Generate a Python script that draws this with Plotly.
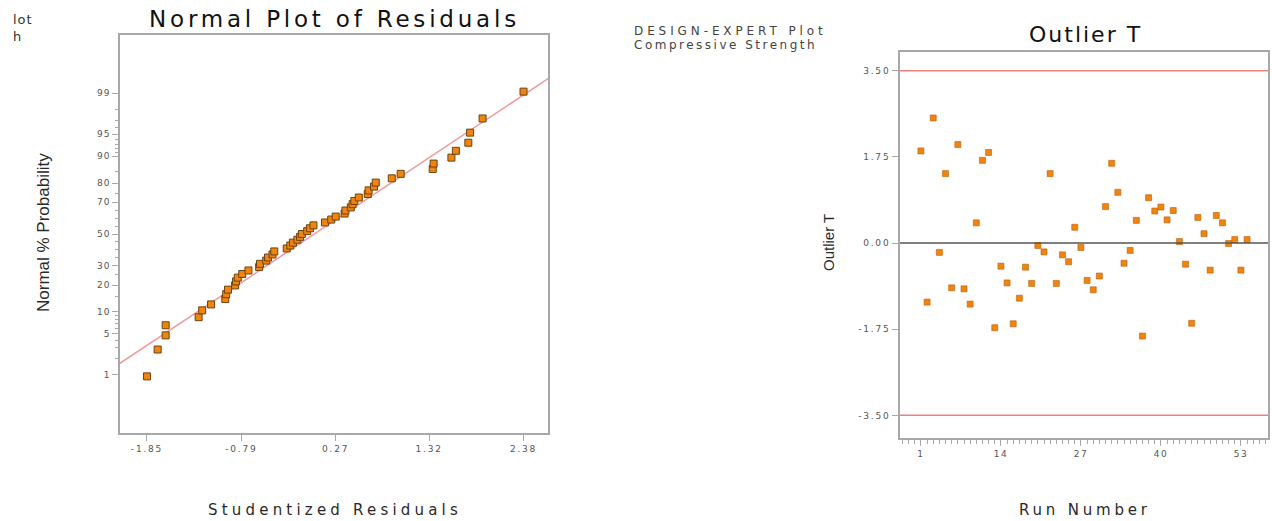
import plotly.graph_objects as go
from statistics import NormalDist

# ---- Normal probability plot of the studentized residuals ----
residuals = [
    -1.85, -1.73, -1.64, -1.64, -1.27, -1.23, -1.13, -0.97, -0.96, -0.94,
    -0.86, -0.85, -0.83, -0.78, -0.71, -0.59, -0.58, -0.51, -0.49, -0.44,
    -0.42, -0.28, -0.24, -0.21, -0.16, -0.13, -0.11, -0.05, -0.02, 0.02,
    0.15, 0.22, 0.27, 0.37, 0.38, 0.44, 0.46, 0.48, 0.53, 0.63,
    0.64, 0.70, 0.72, 0.90, 1.00, 1.36, 1.37, 1.57, 1.62, 1.76,
    1.78, 1.92, 2.38,
]
normal_pct = [
    0.94, 2.83, 4.72, 6.60, 8.49, 10.38, 12.26, 14.15, 16.04, 17.92,
    19.81, 21.70, 23.58, 25.47, 27.36, 29.25, 31.13, 33.02, 34.91, 36.79,
    38.68, 40.57, 42.45, 44.34, 46.23, 48.11, 50.00, 51.89, 53.77, 55.66,
    57.55, 59.43, 61.32, 63.21, 65.09, 66.98, 68.87, 70.75, 72.64, 74.53,
    76.42, 78.30, 80.19, 82.08, 83.96, 85.85, 87.74, 89.62, 91.51, 93.40,
    95.28, 97.17, 99.06,
]
fit_x = [-2.16, 2.66]
fit_pct = [1.62, 99.49]

resid_ticks = [-1.85, -0.79, 0.27, 1.32, 2.38]
prob_ticks = [1, 5, 10, 20, 30, 50, 70, 80, 90, 95, 99]
prob_minor = [2, 3, 4, 6, 7, 8, 9, 15, 25, 35, 40, 45, 55, 60, 65, 75, 85,
              91, 92, 93, 94, 96, 97, 98]

# ---- Outlier T by run order ----
runs = list(range(1, 55))
outlier_t = [
    1.87, -1.20, 2.54, -0.19, 1.41, -0.91, 2.00, -0.93, -1.24, 0.41,
    1.68, 1.84, -1.72, -0.47, -0.81, -1.64, -1.12, -0.49, -0.82, -0.05,
    -0.18, 1.41, -0.82, -0.24, -0.38, 0.32, -0.09, -0.76, -0.95, -0.67,
    0.74, 1.62, 1.03, -0.41, -0.15, 0.46, -1.89, 0.92, 0.65, 0.73,
    0.47, 0.66, 0.03, -0.43, -1.63, 0.52, 0.19, -0.55, 0.56, 0.41,
    -0.01, 0.07, -0.55, 0.07,
]
t_limit = 3.50
t_ticks = [3.50, 1.75, 0.00, -1.75, -3.50]
run_ticks = [1, 14, 27, 40, 53]

W, H = 1272, 521
nd = NormalDist()


def probit(p):
    return nd.inv_cdf(p / 100.0)


def px(x):
    return x / W


def py(y):
    return 1 - y / H


def spaced(text, gap):
    """Wrap text in a span with extra letter spacing."""
    return f'<span style="letter-spacing:{gap}px">{text}</span>'


ORANGE = "#f0840e"
EDGE = "#6b4310"
AXIS = "#a8a8a8"
TICKFONT = dict(family="DejaVu Sans", size=9, color="#555555")
TEXT = "#2a2a2a"

fig = go.Figure()

fig.add_trace(go.Scatter(
    x=fit_x, y=[probit(p) for p in fit_pct], mode="lines",
    line=dict(color="#f29a9a", width=1.5), xaxis="x", yaxis="y",
    hoverinfo="skip", showlegend=False))
fig.add_trace(go.Scatter(
    x=residuals, y=[probit(p) for p in normal_pct], mode="markers",
    marker=dict(symbol="square", size=7, color=ORANGE,
                line=dict(color=EDGE, width=1)),
    xaxis="x", yaxis="y", showlegend=False))

fig.add_trace(go.Scatter(
    x=runs, y=outlier_t, mode="markers",
    marker=dict(symbol="square", size=6, color=ORANGE,
                line=dict(color="#b86008", width=0.6)),
    xaxis="x2", yaxis="y2", showlegend=False))

axis_common = dict(showline=True, mirror=True, linecolor=AXIS, linewidth=1.5,
                   ticks="outside", tickcolor=AXIS, ticklen=6, tickwidth=1,
                   showgrid=False, zeroline=False, tickfont=TICKFONT)

fig.update_layout(
    width=W, height=H, margin=dict(l=0, r=0, t=0, b=0),
    paper_bgcolor="white", plot_bgcolor="white",
    xaxis=dict(domain=[px(120), px(548)], range=[-2.153, 2.655],
               tickmode="array", tickvals=resid_ticks,
               ticktext=[spaced(f"{v:.2f}", 1.8) for v in resid_ticks],
               anchor="y", **axis_common),
    yaxis=dict(domain=[py(433), py(35)], range=[-3.284, 3.284],
               tickmode="array", tickvals=[probit(p) for p in prob_ticks],
               ticktext=[spaced(str(p), 1) for p in prob_ticks],
               minor=dict(tickmode="array",
                          tickvals=[probit(p) for p in prob_minor],
                          ticklen=3, tickcolor=AXIS, ticks="outside"),
               anchor="x", **axis_common),
    xaxis2=dict(domain=[px(900), px(1268)], range=[-2.4, 57.4],
                tickmode="array", tickvals=run_ticks,
                ticktext=[spaced(str(v), 1.5) for v in run_ticks],
                minor=dict(tickmode="linear", tick0=1, dtick=1, ticklen=4,
                           tickcolor=AXIS, ticks="outside"),
                anchor="y2", **axis_common),
    yaxis2=dict(domain=[py(438), py(52)], range=[-3.96, 3.88],
                tickmode="array", tickvals=t_ticks,
                ticktext=[spaced(f"{v:.2f}", 1.8) for v in t_ticks],
                anchor="x2", **axis_common),
    shapes=[
        dict(type="line", xref="x2 domain", yref="y2", x0=0, x1=1,
             y0=t_limit, y1=t_limit, line=dict(color="#f08080", width=1.5)),
        dict(type="line", xref="x2 domain", yref="y2", x0=0, x1=1,
             y0=-t_limit, y1=-t_limit, line=dict(color="#f08080", width=1.5)),
        dict(type="line", xref="x2 domain", yref="y2", x0=0, x1=1,
             y0=0, y1=0, line=dict(color="#555555", width=1.5)),
    ],
)

ann = [
    dict(text=spaced("Normal Plot of Residuals", 3.8), x=px(334), y=py(19),
         font=dict(family="DejaVu Sans", size=23, color="#111111")),
    dict(text=spaced("Studentized Residuals", 4.2), x=px(335), y=py(510),
         font=dict(family="DejaVu Sans", size=15, color=TEXT)),
    dict(text="Normal % Probability", x=px(43), y=py(233), textangle=-90,
         font=dict(family="Liberation Sans Narrow, Liberation Sans", size=17,
                   color=TEXT)),
    dict(text=spaced("Outlier T", 2), x=px(1085), y=py(35),
         font=dict(family="DejaVu Sans", size=22, color="#111111")),
    dict(text="Outlier T", x=px(828), y=py(243), textangle=-90,
         font=dict(family="Liberation Sans Narrow, Liberation Sans", size=15,
                   color=TEXT)),
    dict(text=spaced("Run Number", 3.8), x=px(1085), y=py(510),
         font=dict(family="DejaVu Sans", size=15, color=TEXT)),
    dict(text=spaced("DESIGN-EXPERT Plot", 3.9), x=px(632), y=py(31),
         xanchor="left",
         font=dict(family="DejaVu Sans", size=12, color="#444444")),
    dict(text=spaced("Compressive Strength", 2.5), x=px(632), y=py(45),
         xanchor="left",
         font=dict(family="DejaVu Sans", size=12, color="#444444")),
    dict(text=spaced("lot", 1), x=px(11), y=py(19), xanchor="left",
         font=dict(family="DejaVu Sans", size=13, color="#333333")),
    dict(text="h", x=px(11), y=py(37), xanchor="left",
         font=dict(family="DejaVu Sans", size=13, color="#333333")),
]
for a in ann:
    a.setdefault("xanchor", "center")
    a.update(xref="paper", yref="paper", yanchor="middle", showarrow=False)
fig.update_layout(annotations=ann)

fig.write_html("out.html")
